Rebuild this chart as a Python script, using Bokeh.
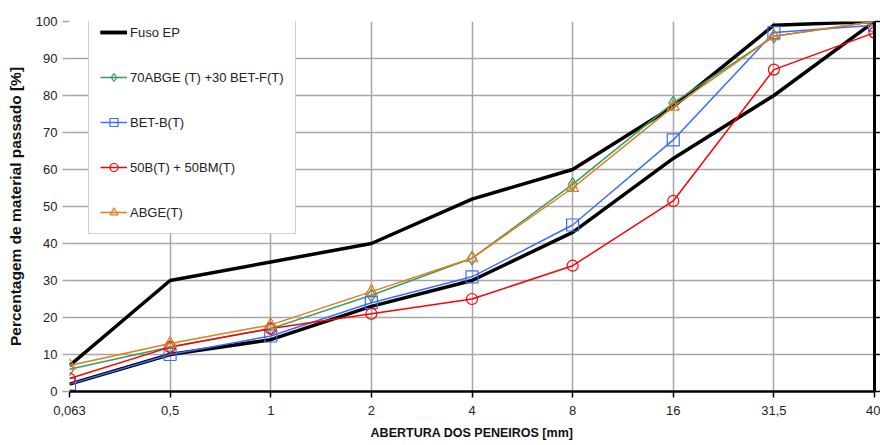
from bokeh.plotting import figure
from bokeh.models import Range1d, FixedTicker, LinearAxis, Legend
from bokeh.embed import file_html
from bokeh.resources import INLINE

categories = ["0,063", "0,5", "1", "2", "4", "8", "16", "31,5", "40"]
fuso_upper = [7, 30, 35, 40, 52, 60, 77, 99, 100]
fuso_lower = [2, 10, 14, 23, 30, 43, 63, 80, 100]
abge70_betf30 = [6, 12, 17, 26, 36, 56, 78, 96, 100]
bet_b = [2, 10, 15, 24, 31, 45, 68, 97, 99]
b50_bm50 = [3.5, 12, 17, 21, 25, 34, 51.5, 87, 97]
abge = [7, 13, 18, 27, 36, 55, 77, 96, 100]
y_ticks = list(range(0, 101, 10))

FONT = "Liberation Sans"
xs = list(range(len(categories)))

p = figure(width=880, height=445, output_backend="svg", toolbar_location=None,
           x_range=Range1d(0, len(categories) - 1), y_range=Range1d(0, 100),
           min_border_left=69, min_border_right=6, min_border_top=21, min_border_bottom=54)
p.outline_line_color = None
p.background_fill_color = "white"

grid_col = "#a6a6a6"
p.xgrid.ticker = FixedTicker(ticks=xs)
p.ygrid.ticker = FixedTicker(ticks=y_ticks)
for g in (p.xgrid, p.ygrid):
    g.grid_line_color = grid_col
    g.grid_line_width = 1.5

# x axis
xa = p.xaxis[0]
xa.ticker = FixedTicker(ticks=xs)
xa.major_label_overrides = {i: c for i, c in enumerate(categories)}
xa.axis_line_color = "black"
xa.axis_line_width = 2.5
xa.major_tick_line_color = "black"
xa.major_tick_line_width = 1.5
xa.major_tick_out = 6
xa.major_tick_in = 0
xa.minor_tick_line_color = None
xa.major_label_text_font = FONT
xa.major_label_text_font_size = "13px"
xa.major_label_text_color = "#222222"
xa.axis_label = "ABERTURA DOS PENEIROS [mm]"
xa.axis_label_text_font = FONT
xa.axis_label_text_font_style = "bold"
xa.axis_label_text_font_size = "12.5px"
xa.axis_label_text_color = "#111111"
xa.axis_label_standoff = 8
xa.major_label_standoff = 8

# y axis (left, labels)
ya = p.yaxis[0]
ya.ticker = FixedTicker(ticks=y_ticks)
ya.axis_line_color = None
ya.major_tick_line_color = grid_col
ya.major_tick_line_width = 1.5
ya.major_tick_out = 7
ya.major_tick_in = 0
ya.minor_tick_line_color = None
ya.major_label_text_font = FONT
ya.major_label_text_font_size = "13px"
ya.major_label_text_color = "#222222"
ya.major_label_standoff = 5
ya.axis_label = "Percentagem de material passado [%]"
ya.axis_label_text_font = FONT
ya.axis_label_text_font_style = "bold"
ya.axis_label_text_font_size = "15.5px"
ya.axis_label_text_color = "#111111"
ya.axis_label_standoff = 9

# right axis line with ticks
ra = LinearAxis(ticker=FixedTicker(ticks=y_ticks), axis_line_color="black", axis_line_width=3,
                major_tick_line_color="black", major_tick_line_width=1.5,
                major_tick_out=6, major_tick_in=0, minor_tick_line_color=None,
                major_label_text_font_size="0px", major_label_text_color=None)
p.add_layout(ra, "right")

r_up = p.line(xs, fuso_upper, line_color="black", line_width=3.5)
r_lo = p.line(xs, fuso_lower, line_color="black", line_width=3.5)

series = [
    (abge70_betf30, "#3a9a5c", "diamond", 13, "70ABGE (T) +30 BET-F(T)"),
    (bet_b, "#3d6cf5", "square", 12, "BET-B(T)"),
    (b50_bm50, "#ff0000", "circle", 11, "50B(T) + 50BM(T)"),
    (abge, "#e07b20", "triangle", 12, "ABGE(T)"),
]
items = [("Fuso EP", [r_up, r_lo])]
for ys, col, mk, sz, lab in series:
    rl = p.line(xs, ys, line_color=col, line_width=1.5)
    rs = p.scatter(xs, ys, marker=mk, size=sz, line_color=col, fill_alpha=0, line_width=1.2)
    items.append((lab, [rl, rs]))

legend = Legend(items=items, location=(19, 157), orientation="vertical",
                label_text_font=FONT, label_text_font_size="13px", label_text_color="#222222",
                glyph_width=27, glyph_height=20, label_height=20, spacing=25,
                padding=11, margin=0, label_standoff=3,
                border_line_color="#a0a0a0", border_line_width=1,
                background_fill_color="white", background_fill_alpha=1)
p.add_layout(legend, "center")

open("out.html", "w").write(file_html(p, INLINE))
